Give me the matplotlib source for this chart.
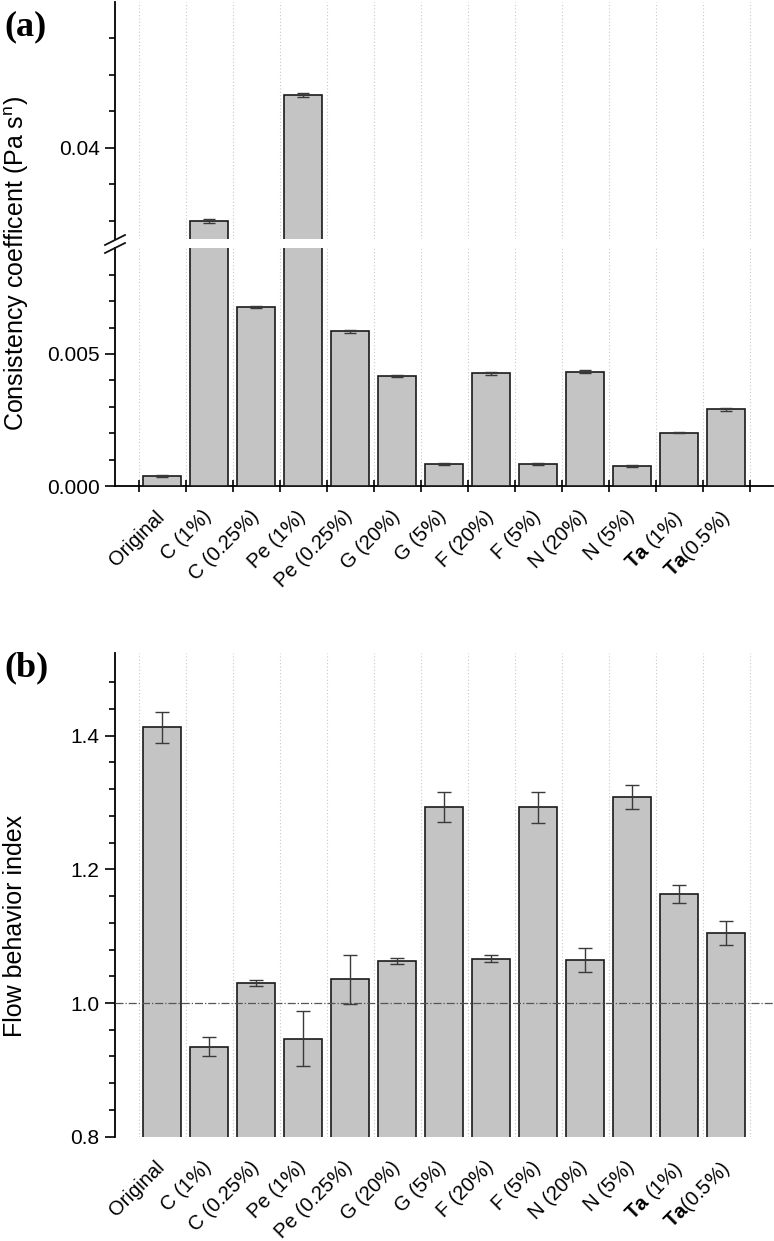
import matplotlib
matplotlib.use('Agg')
import matplotlib.pyplot as plt
import numpy as np
from matplotlib.ticker import FixedLocator, FormatStrFormatter
from matplotlib.lines import Line2D
from matplotlib.transforms import ScaledTranslation

plt.rcParams['font.family'] = ['Liberation Sans', 'DejaVu Sans']
plt.rcParams['mathtext.fontset'] = 'custom'
plt.rcParams['mathtext.rm'] = 'Liberation Sans'
plt.rcParams['mathtext.bf'] = 'Liberation Sans:bold'
plt.rcParams['mathtext.it'] = 'Liberation Sans:italic'

categories = ['Original', 'C (1%)', 'C (0.25%)', 'Pe (1%)', 'Pe (0.25%)',
              'G (20%)', 'G (5%)', 'F (20%)', 'F (5%)', 'N (20%)', 'N (5%)',
              r'$\mathbf{Ta}$ (1%)', r'$\mathbf{Ta}$(0.5%)']

consistency = [0.00038, 0.0360, 0.00678, 0.0429, 0.00586, 0.00417, 0.00083,
               0.00427, 0.00083, 0.00433, 0.00076, 0.00201, 0.00290]
consistency_err = [0.00004, 0.00010, 0.00005, 0.00010, 0.00006, 0.00005, 0.00004,
                   0.00006, 0.00004, 0.00005, 0.00004, 0.00002, 0.00007]

flow_index = [1.4126, 0.9346, 1.0295, 0.9466, 1.0354, 1.0624, 1.2932,
              1.0663, 1.2927, 1.0639, 1.3082, 1.1630, 1.1047]
flow_index_err = [0.0233, 0.0140, 0.0045, 0.0410, 0.0367, 0.0043, 0.0227,
                  0.0050, 0.0228, 0.0180, 0.0185, 0.0137, 0.0180]

W, H = 774, 1241
fig = plt.figure(figsize=(W / 100, H / 100), dpi=100)


def rect(x0, y0, x1, y1):
    return [x0 / W, 1 - y1 / H, (x1 - x0) / W, (y1 - y0) / H]


x = np.arange(len(categories))
bounds = np.arange(-0.5, len(categories), 1.0)
BAR = '#c4c4c4'
EDGE = '#1a1a1a'
ERR = '#3a3a3a'
TICKFS = 15
XTICKFS = 14.5
LABFS = 18


def style_axis(ax):
    ax.set_xlim(-1, 13)
    for s in ['top', 'right']:
        ax.spines[s].set_visible(False)
    ax.spines['left'].set_linewidth(1.3)
    ax.spines['bottom'].set_linewidth(1.3)
    ax.tick_params(axis='y', which='major', direction='out', length=7, width=1.2,
                   labelsize=TICKFS, pad=4)
    ax.tick_params(axis='y', which='minor', direction='out', length=4, width=1.2)
    for b in bounds:
        ax.axvline(b, color='#c8c8c8', ls=(0, (1, 2)), lw=0.8, zorder=0)


def draw_bars(ax, vals, errs, cap):
    ax.bar(x, vals, width=0.8, color=BAR, edgecolor=EDGE, linewidth=1.2, zorder=3)
    ax.errorbar(x, vals, yerr=errs, fmt='none', ecolor=ERR, elinewidth=1.0,
                capsize=cap, capthick=1.0, zorder=4)


def shift_labels(ax, dx_px):
    off = ScaledTranslation(dx_px / 100, 0, fig.dpi_scale_trans)
    for lab in ax.get_xticklabels():
        lab.set_transform(lab.get_transform() + off)


# ---------- panel (a) upper ----------
ax_up = fig.add_axes(rect(115, 1.5, 773, 239.3))
style_axis(ax_up)
draw_bars(ax_up, consistency, consistency_err, 4)
ax_up.set_ylim(0.035, 0.048)
ax_up.spines['bottom'].set_visible(False)
ax_up.yaxis.set_major_locator(FixedLocator([0.04]))
ax_up.yaxis.set_minor_locator(FixedLocator([0.036, 0.038, 0.042, 0.044, 0.046]))
ax_up.yaxis.set_major_formatter(FormatStrFormatter('%.2f'))
ax_up.set_xticks([])
ax_up.tick_params(axis='x', which='both', length=0)

# ---------- panel (a) lower ----------
ax_lo = fig.add_axes(rect(115, 248.3, 773, 486))
style_axis(ax_lo)
draw_bars(ax_lo, consistency, consistency_err, 4)
ax_lo.set_ylim(0, 0.009)
ax_lo.yaxis.set_major_locator(FixedLocator([0.0, 0.005]))
ax_lo.yaxis.set_minor_locator(FixedLocator([0.001, 0.002, 0.003, 0.004, 0.006, 0.007, 0.008]))
ax_lo.yaxis.set_major_formatter(FormatStrFormatter('%.3f'))
ax_lo.set_xticks(x)
ax_lo.set_xticklabels(categories, rotation=45, ha='right', va='top',
                      rotation_mode='anchor', fontsize=XTICKFS)
ax_lo.xaxis.set_minor_locator(FixedLocator(bounds))
ax_lo.tick_params(axis='x', which='major', length=0, pad=15)
ax_lo.tick_params(axis='x', which='minor', direction='inout', length=9, width=1.2)
shift_labels(ax_lo, -7)

# break marks on the y axis of panel (a)
for yc in (240.0, 248.0):
    fig.add_artist(Line2D([105 / W, 125 / W], [1 - (yc + 5) / H, 1 - (yc - 5) / H],
                          transform=fig.transFigure, color='#111111', lw=1.3))

# ---------- panel (b) ----------
ax_b = fig.add_axes(rect(115, 653, 773, 1136.7))
style_axis(ax_b)
draw_bars(ax_b, flow_index, flow_index_err, 5)
ax_b.set_ylim(0.8, 1.5236)
ax_b.spines['bottom'].set_visible(False)
ax_b.axhline(1.0, color='#555555', lw=0.9, ls='-.', zorder=5)
ax_b.yaxis.set_major_locator(FixedLocator([0.8, 1.0, 1.2, 1.4]))
ax_b.yaxis.set_minor_locator(FixedLocator(np.round(np.arange(0.84, 1.50, 0.04), 2)))
ax_b.yaxis.set_major_formatter(FormatStrFormatter('%.1f'))
ax_b.set_xticks(x)
ax_b.set_xticklabels(categories, rotation=45, ha='right', va='top',
                     rotation_mode='anchor', fontsize=XTICKFS)
ax_b.tick_params(axis='x', which='both', length=0, pad=15)
shift_labels(ax_b, -7)

# ---------- labels ----------
fig.text(17 / W, 1 - 264 / H, r'Consistency coefficent (Pa s$^{\mathrm{n}}$)',
         rotation=90, ha='center', va='center', fontsize=LABFS)
fig.text(15 / W, 1 - 926 / H, 'Flow behavior index',
         rotation=90, ha='center', va='center', fontsize=LABFS)
fig.text(4 / W, 1 - 27 / H, '(a)', family='Liberation Serif', weight='bold',
         fontsize=26, ha='left', va='center')
fig.text(4 / W, 1 - 668 / H, '(b)', family='Liberation Serif', weight='bold',
         fontsize=26, ha='left', va='center')

fig.savefig('out.png', dpi=100)
